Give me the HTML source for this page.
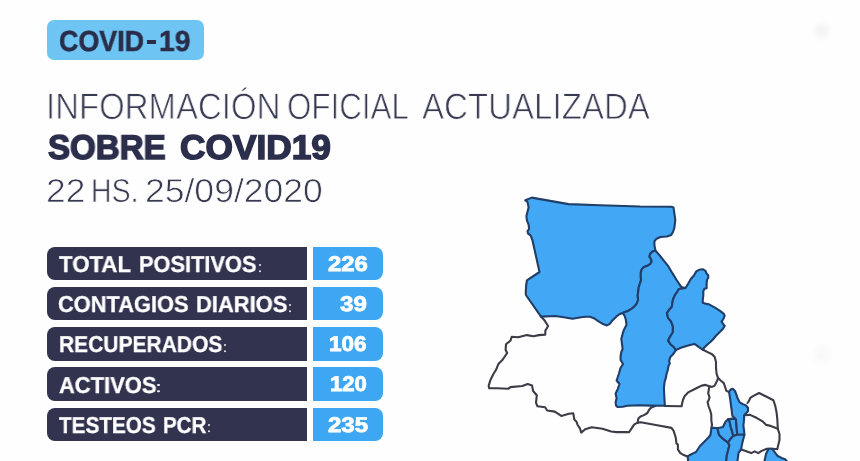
<!DOCTYPE html>
<html><head><meta charset="utf-8">
<style>
*{margin:0;padding:0;box-sizing:border-box}
html,body{width:860px;height:461px;overflow:hidden;background:#fefefe}
body{position:relative;font-family:"Liberation Sans", sans-serif;text-rendering:geometricPrecision}
.a{position:absolute}
.t{position:absolute;white-space:nowrap;line-height:1;transform-origin:0 0;will-change:transform}
#badge{left:47.4px;top:19.5px;width:157px;height:40px;border-radius:7px;background:#6ec5f3}
.row{position:absolute;left:47.4px;width:259.4px;height:33.5px;background:#31334f;border-radius:8px 0 0 8px}
.num{position:absolute;left:313px;width:70.3px;height:33.5px;background:#3da7f3;border-radius:0 8px 8px 0}
.col{position:absolute;width:2.3px;height:2.1px;background:#ececf2;border-radius:1px;box-shadow:0 6.2px 0 #ececf2}
svg polyline{fill:none;stroke:#3c3c47;stroke-width:2.1;stroke-linejoin:round;stroke-linecap:round}
svg polygon{fill:#42a7f4;stroke:#213e68;stroke-width:2.1;stroke-linejoin:round}
.blob{position:absolute;border-radius:50%;background:radial-gradient(circle,#f2f2f2 0%,#f8f8f8 40%,rgba(254,254,254,0) 70%)}
</style></head><body>
<div id="badge" class="a"></div>
<div class="a" style="left:147.4px;top:40.1px;width:8.2px;height:4.1px;background:#2a2d4a"></div>
<div class="row" style="top:246.7px"></div><div class="num" style="top:246.7px"></div>
<b class="col" style="left:258.9px;top:263.5px"></b>
<div class="row" style="top:286.9px"></div><div class="num" style="top:286.9px"></div>
<b class="col" style="left:288.5px;top:303.7px"></b>
<div class="row" style="top:327.1px"></div><div class="num" style="top:327.1px"></div>
<b class="col" style="left:223.5px;top:343.9px"></b>
<div class="row" style="top:367.3px"></div><div class="num" style="top:367.3px"></div>
<b class="col" style="left:157.4px;top:384.1px"></b>
<div class="row" style="top:407.5px"></div><div class="num" style="top:407.5px"></div>
<b class="col" style="left:207.6px;top:424.3px"></b>
<span class="t" id="t0" style="left:59.20px;top:28.29px;font-size:29.09px;color:#2a2d4a;transform:scaleX(0.9242);font-weight:bold;-webkit-text-stroke:0.5px #2a2d4a;">COVID</span>
<span class="t" id="t1" style="left:158.98px;top:28.29px;font-size:29.09px;color:#2a2d4a;transform:scaleX(0.9705);font-weight:bold;-webkit-text-stroke:0.5px #2a2d4a;">19</span>
<span class="t" id="t2" style="left:46.03px;top:88.69px;font-size:36.78px;color:#383a52;transform:scaleX(0.8965);-webkit-text-stroke:0.8px #fefefe;">INFORMACIÓN</span>
<span class="t" id="t3" style="left:287.06px;top:88.69px;font-size:36.78px;color:#383a52;transform:scaleX(0.8528);-webkit-text-stroke:0.8px #fefefe;">OFICIAL</span>
<span class="t" id="t4" style="left:421.56px;top:88.69px;font-size:36.78px;color:#383a52;transform:scaleX(0.8997);-webkit-text-stroke:0.8px #fefefe;">ACTUALIZADA</span>
<span class="t" id="t5" style="left:47.62px;top:131.47px;font-size:34.24px;color:#2c2f4c;transform:scaleX(0.9658);font-weight:bold;-webkit-text-stroke:1.5px #2c2f4c;">SOBRE</span>
<span class="t" id="t6" style="left:179.87px;top:131.47px;font-size:34.24px;color:#2c2f4c;transform:scaleX(1.0304);font-weight:bold;-webkit-text-stroke:1.5px #2c2f4c;">COVID19</span>
<span class="t" id="t7" style="left:90.59px;top:174.84px;font-size:33.13px;color:#383a52;transform:scaleX(0.8593);-webkit-text-stroke:0.7px #fefefe;">HS.</span>
<span class="t" id="t8" style="left:45.92px;top:174.84px;font-size:33.13px;color:#383a52;transform:scaleX(1.0657);-webkit-text-stroke:0.7px #fefefe;">22</span>
<span class="t" id="t9" style="left:145.32px;top:174.84px;font-size:33.13px;color:#383a52;transform:scaleX(1.0722);-webkit-text-stroke:0.7px #fefefe;">25/09/2020</span>
<span class="t" id="t10" style="left:59.03px;top:252.90px;font-size:23.00px;color:#fff;transform:scaleX(0.9671);font-weight:bold;-webkit-text-stroke:0.3px #fff;">TOTAL</span>
<span class="t" id="t11" style="left:139.24px;top:252.90px;font-size:23.00px;color:#fff;transform:scaleX(0.9471);font-weight:bold;-webkit-text-stroke:0.3px #fff;">POSITIVOS</span>
<span class="t" id="t12" style="left:327.87px;top:253.82px;font-size:21.18px;color:#fff;transform:scaleX(1.1299);font-weight:bold;-webkit-text-stroke:0.8px #fff;">226</span>
<span class="t" id="t13" style="left:57.88px;top:293.10px;font-size:23.00px;color:#fff;transform:scaleX(0.9490);font-weight:bold;-webkit-text-stroke:0.3px #fff;">CONTAGIOS</span>
<span class="t" id="t14" style="left:196.11px;top:293.10px;font-size:23.00px;color:#fff;transform:scaleX(0.9543);font-weight:bold;-webkit-text-stroke:0.3px #fff;">DIARIOS</span>
<span class="t" id="t15" style="left:340.01px;top:294.02px;font-size:21.18px;color:#fff;transform:scaleX(1.1382);font-weight:bold;-webkit-text-stroke:0.8px #fff;">39</span>
<span class="t" id="t16" style="left:58.67px;top:333.30px;font-size:23.00px;color:#fff;transform:scaleX(0.9131);font-weight:bold;-webkit-text-stroke:0.3px #fff;">RECUPERADOS</span>
<span class="t" id="t17" style="left:329.41px;top:334.22px;font-size:21.18px;color:#fff;transform:scaleX(1.0633);font-weight:bold;-webkit-text-stroke:0.8px #fff;">106</span>
<span class="t" id="t18" style="left:59.01px;top:373.50px;font-size:23.00px;color:#fff;transform:scaleX(0.9528);font-weight:bold;-webkit-text-stroke:0.3px #fff;">ACTIVOS</span>
<span class="t" id="t19" style="left:330.10px;top:374.42px;font-size:21.18px;color:#fff;transform:scaleX(1.0448);font-weight:bold;-webkit-text-stroke:0.8px #fff;">120</span>
<span class="t" id="t20" style="left:58.73px;top:413.70px;font-size:23.00px;color:#fff;transform:scaleX(0.9006);font-weight:bold;-webkit-text-stroke:0.3px #fff;">TESTEOS</span>
<span class="t" id="t21" style="left:162.88px;top:413.70px;font-size:23.00px;color:#fff;transform:scaleX(0.8918);font-weight:bold;-webkit-text-stroke:0.3px #fff;">PCR</span>
<span class="t" id="t22" style="left:327.76px;top:414.62px;font-size:21.18px;color:#fff;transform:scaleX(1.1330);font-weight:bold;-webkit-text-stroke:0.8px #fff;">235</span>
<svg class="a" style="left:0;top:0" width="860" height="461" viewBox="0 0 860 461">
<polyline points="541,316.6 544.2,319.9 548.1,326 545.3,330.7 545.3,334.6 538.8,335.1 533.4,336.2 526.9,335.1 518.2,337.2 511.7,336.8 510.6,340.5 506,344.3 505.6,349.8 507.1,353 502.8,359.5 498.4,363.9 496.3,369.3 493,374.7 490.4,380.1 488.7,385.6 489.1,388.2 497.4,388.2 508.2,388.8 510.4,387.1 522.3,386 527.7,384 532.1,385.6 533.1,391 536.8,395.3 536,402.9 537.5,406.2 545.1,407.2 547.2,410.5 554.8,411.6 561.3,415.9 568.9,413.8 573.3,413.3 574.3,419.6 576.5,421.7 577.6,425 579.8,428.2 581.3,432.6 585.2,429.3 591.7,427.2 602.5,428.7 611.2,431.5 616.6,432.1 627.5,432.1 629.1,432.2 630.8,429.6 634.3,424.4 637.7,422.6"/>
<polyline points="637.7,422.6 638,420 638.4,418.6 640.5,416.5 644,415.1 647.4,413 648.8,410.2 650.9,407.8 655.1,406"/>
<polyline points="703,349.8 708.2,352.4 712.1,354.3 714.7,356.9 716,362.1 716,367.3 716.6,373.9 718,377.8 717.3,380.4 716,383 714.7,385.6 712.1,386.9 709.5,386.2 705.6,384.9 701.7,385.6 697.8,387.5 693.9,389.5 688.6,392.1 684.7,396 683,399.8 682,404 681.6,406.2 664.9,406"/>
<polyline points="709.5,386.2 708.8,389.5 708.2,393.4 709.5,397.3 708.8,400 707.6,402 708.5,406 710,410 711.2,414 711.4,421 712,425 711.4,428.3"/>
<polyline points="718,377.8 720.6,380.5 723.8,383.1 725.1,387 726.4,390.9 729,392"/>
<polyline points="637.7,422.6 640.7,422.2 655.8,425 671.5,427.9 673.6,430.8 675.8,437.9 676.5,443.6 677.9,444.4 677.9,449.4 680.1,452.9 683.7,455.1 687.5,456.6"/>
<polyline points="747.5,403 748.6,401.5 750.6,397.6 753.9,395.6 759.1,393 765.6,396.3 773.4,400.2 775.3,406 776.6,412.6 777.3,419 777.8,428.8"/>
<polyline points="744.1,415.2 750,414.9 756.5,417.8 763,421.7 766.2,424.9 769.5,425.6 777.8,428.8"/>
<polyline points="777.8,428.8 779.5,434 779.5,440.1 778.2,445.3 777.3,449.2 773,448.8 766.9,448.8 761.7,450.9 758.2,453.1 754.7,451.4 751.3,453.1 746.9,451.4 741.5,449.6"/>
<polygon points="525.3,200.3 531.8,197.6 568.6,204.1 600,205.2 640,206.5 671.5,206.8 673.5,207.4 674.4,213.6 675.3,220.1 674.4,227.6 673,232 671.2,234.9 666.9,236.5 660.4,237 656.6,238.7 654.4,241.4 654.4,245.2 655.5,250.6 652.2,251.7 650.1,253.9 649.5,256.6 651.1,259.3 651.7,261.5 650.1,264.2 647.4,265.8 644.1,266.9 641.9,269 640.8,272.3 640.8,276.6 641,280.3 638.8,286.8 637.7,295.4 638.1,300 637,303 636.2,304.6 633,307.8 627.8,311.1 622.6,313 619.3,314.3 616,316.9 612.1,320.8 609.5,324.1 606.9,325.4 603,324.1 597.8,320.8 593.9,318.2 590,316.8 586,316.8 581.1,317.3 572.4,318.8 563.8,317.3 555.1,316 541,316.6 525.9,295 525.8,291 526.2,285 526.9,280.3 539.5,272 532.4,240 530.7,235.6 528,233.4 527.5,231.2 529.1,229 528.6,224.7 526.9,220.4 526.4,216 527.5,211.7 528.6,207.4 527.5,201.9"/>
<polygon points="655.5,250.6 659.3,255 663.6,260.4 668,265.8 671.2,271.2 673.9,275.6 676.6,280 681.2,286.9 685.6,288 679,289 674.7,295.6 672.9,300 671.7,307.2 669.3,309.6 666.9,313.1 668.1,317.9 671.1,321.5 672.9,326.3 672.9,332.2 669.9,337 668.1,340.6 670.5,344.2 674.1,347.2 675.9,350.1 673,354.3 670.4,356.9 669.1,360.8 669.8,363.4 668.5,366 667.8,370 666.5,373.9 665.9,377.8 664.6,381.7 663.9,388.2 664.5,400 664.9,405.8 650,405.6 640,405.3 627.3,405.8 622.8,406.7 617.6,407 616,405.4 615.6,402.2 616.6,398.3 615.6,393.5 617.7,389.2 619.5,384 616.6,380.5 618.8,374 620.5,368 623,364 620.6,360 620.6,356 621.3,352.1 622.6,348.8 621.9,343 621.3,339.1 622.6,333.9 623.9,329.9 626.5,324.7 625.8,319.5 624.5,315.6 622.6,313 627.8,311.1 633,307.8 636.2,304.6 637,303 638.1,300 637.7,295.4 638.8,286.8 641,280.3 640.8,276.6 640.8,272.3 641.9,269 644.1,266.9 647.4,265.8 650.1,264.2 651.7,261.5 651.1,259.3 649.5,256.6 650.1,253.9 652.2,251.7"/>
<polygon points="685.6,288 688.7,282.8 690.8,279 694.1,275.2 696.3,271.4 699,269.8 702.8,269.2 705.5,270.8 706.6,273.6 708.2,275.2 708.2,277.9 707.1,279.5 706.6,283.3 706.6,288.2 704.4,288.7 703.3,291.5 703.3,295.8 702.8,299 702.8,302.8 706.6,303.9 709,304.3 715,307.6 719.3,310.3 723.6,313.6 724.7,315.7 723.1,319.5 721.5,321.7 723.1,323.9 724.7,326 722.5,329.3 719.3,332.5 716,335.8 713.3,339 710.6,341.8 707.4,344.5 704.1,347.7 703,349.8 699,347.2 694.5,343.9 690,345 684.9,346.6 680.8,347.8 675.9,350.1 674.1,347.2 670.5,344.2 668.1,340.6 669.9,337 672.9,332.2 672.9,326.3 671.1,321.5 668.1,317.9 666.9,313.1 669.3,309.6 671.7,307.2 672.9,300 674.7,295.6 679,289"/>
<polygon points="711.4,428.3 714,427.8 717.7,428.3 717.7,429.6 719,434.8 722.9,438.7 728.1,442.6 729.4,445.2 728.1,450.4 726.8,455.6 726.2,462 688,462 688,459 687.5,456.4 690,455 693,453.4 696,452 698,449 700,446 702,444 704,442 706,440 708.9,437 710.4,435"/>
<polygon points="717.7,428.3 722.9,427 725.5,421.8 728.1,419.2 729.4,420.5 730.7,427 732,430.9 733.3,436.1 730.7,438.7 728.1,442.6 722.9,438.7 719,434.8 717.7,429.6"/>
<polygon points="728.1,419.2 732,418.6 735.9,419.2 736.6,427 737.2,434.8 733.3,436.1 732,430.9 730.7,427 729.4,420.5"/>
<polygon points="731.1,389.1 733,388.9 735,391 736.3,394.3 737.6,398.2 739.5,402.1 742.8,404.1 746,405.4 748,408 748,411.3 746,413.2 744.1,415.2 744.1,419 743.4,425.6 744.1,430.8 744.4,434.8 737.2,434.8 736.6,427 735.9,419.2 732.3,415.7 731.7,410.5 731,405.3 730.3,400 729.7,396.1 729,391.6"/>
<polygon points="733.3,436.1 737.2,434.8 744.4,434.8 742.4,442.6 741.1,449.1 738.5,453 737.9,458.2 737.2,462 726.2,462 726.8,455.6 728.1,450.4 729.4,445.2 728.1,442.6 730.7,438.7"/>
<polygon points="768.6,448.8 772.1,448.8 774.7,452.2 777.3,455.7 781.6,457.9 785.1,459.2 787.5,462 764.3,462 766,454"/>
</svg>
<div class="blob" style="left:811px;top:20px;width:22px;height:22px"></div>
<div class="blob" style="left:810px;top:343px;width:24px;height:24px;opacity:.5"></div>
</body></html>
